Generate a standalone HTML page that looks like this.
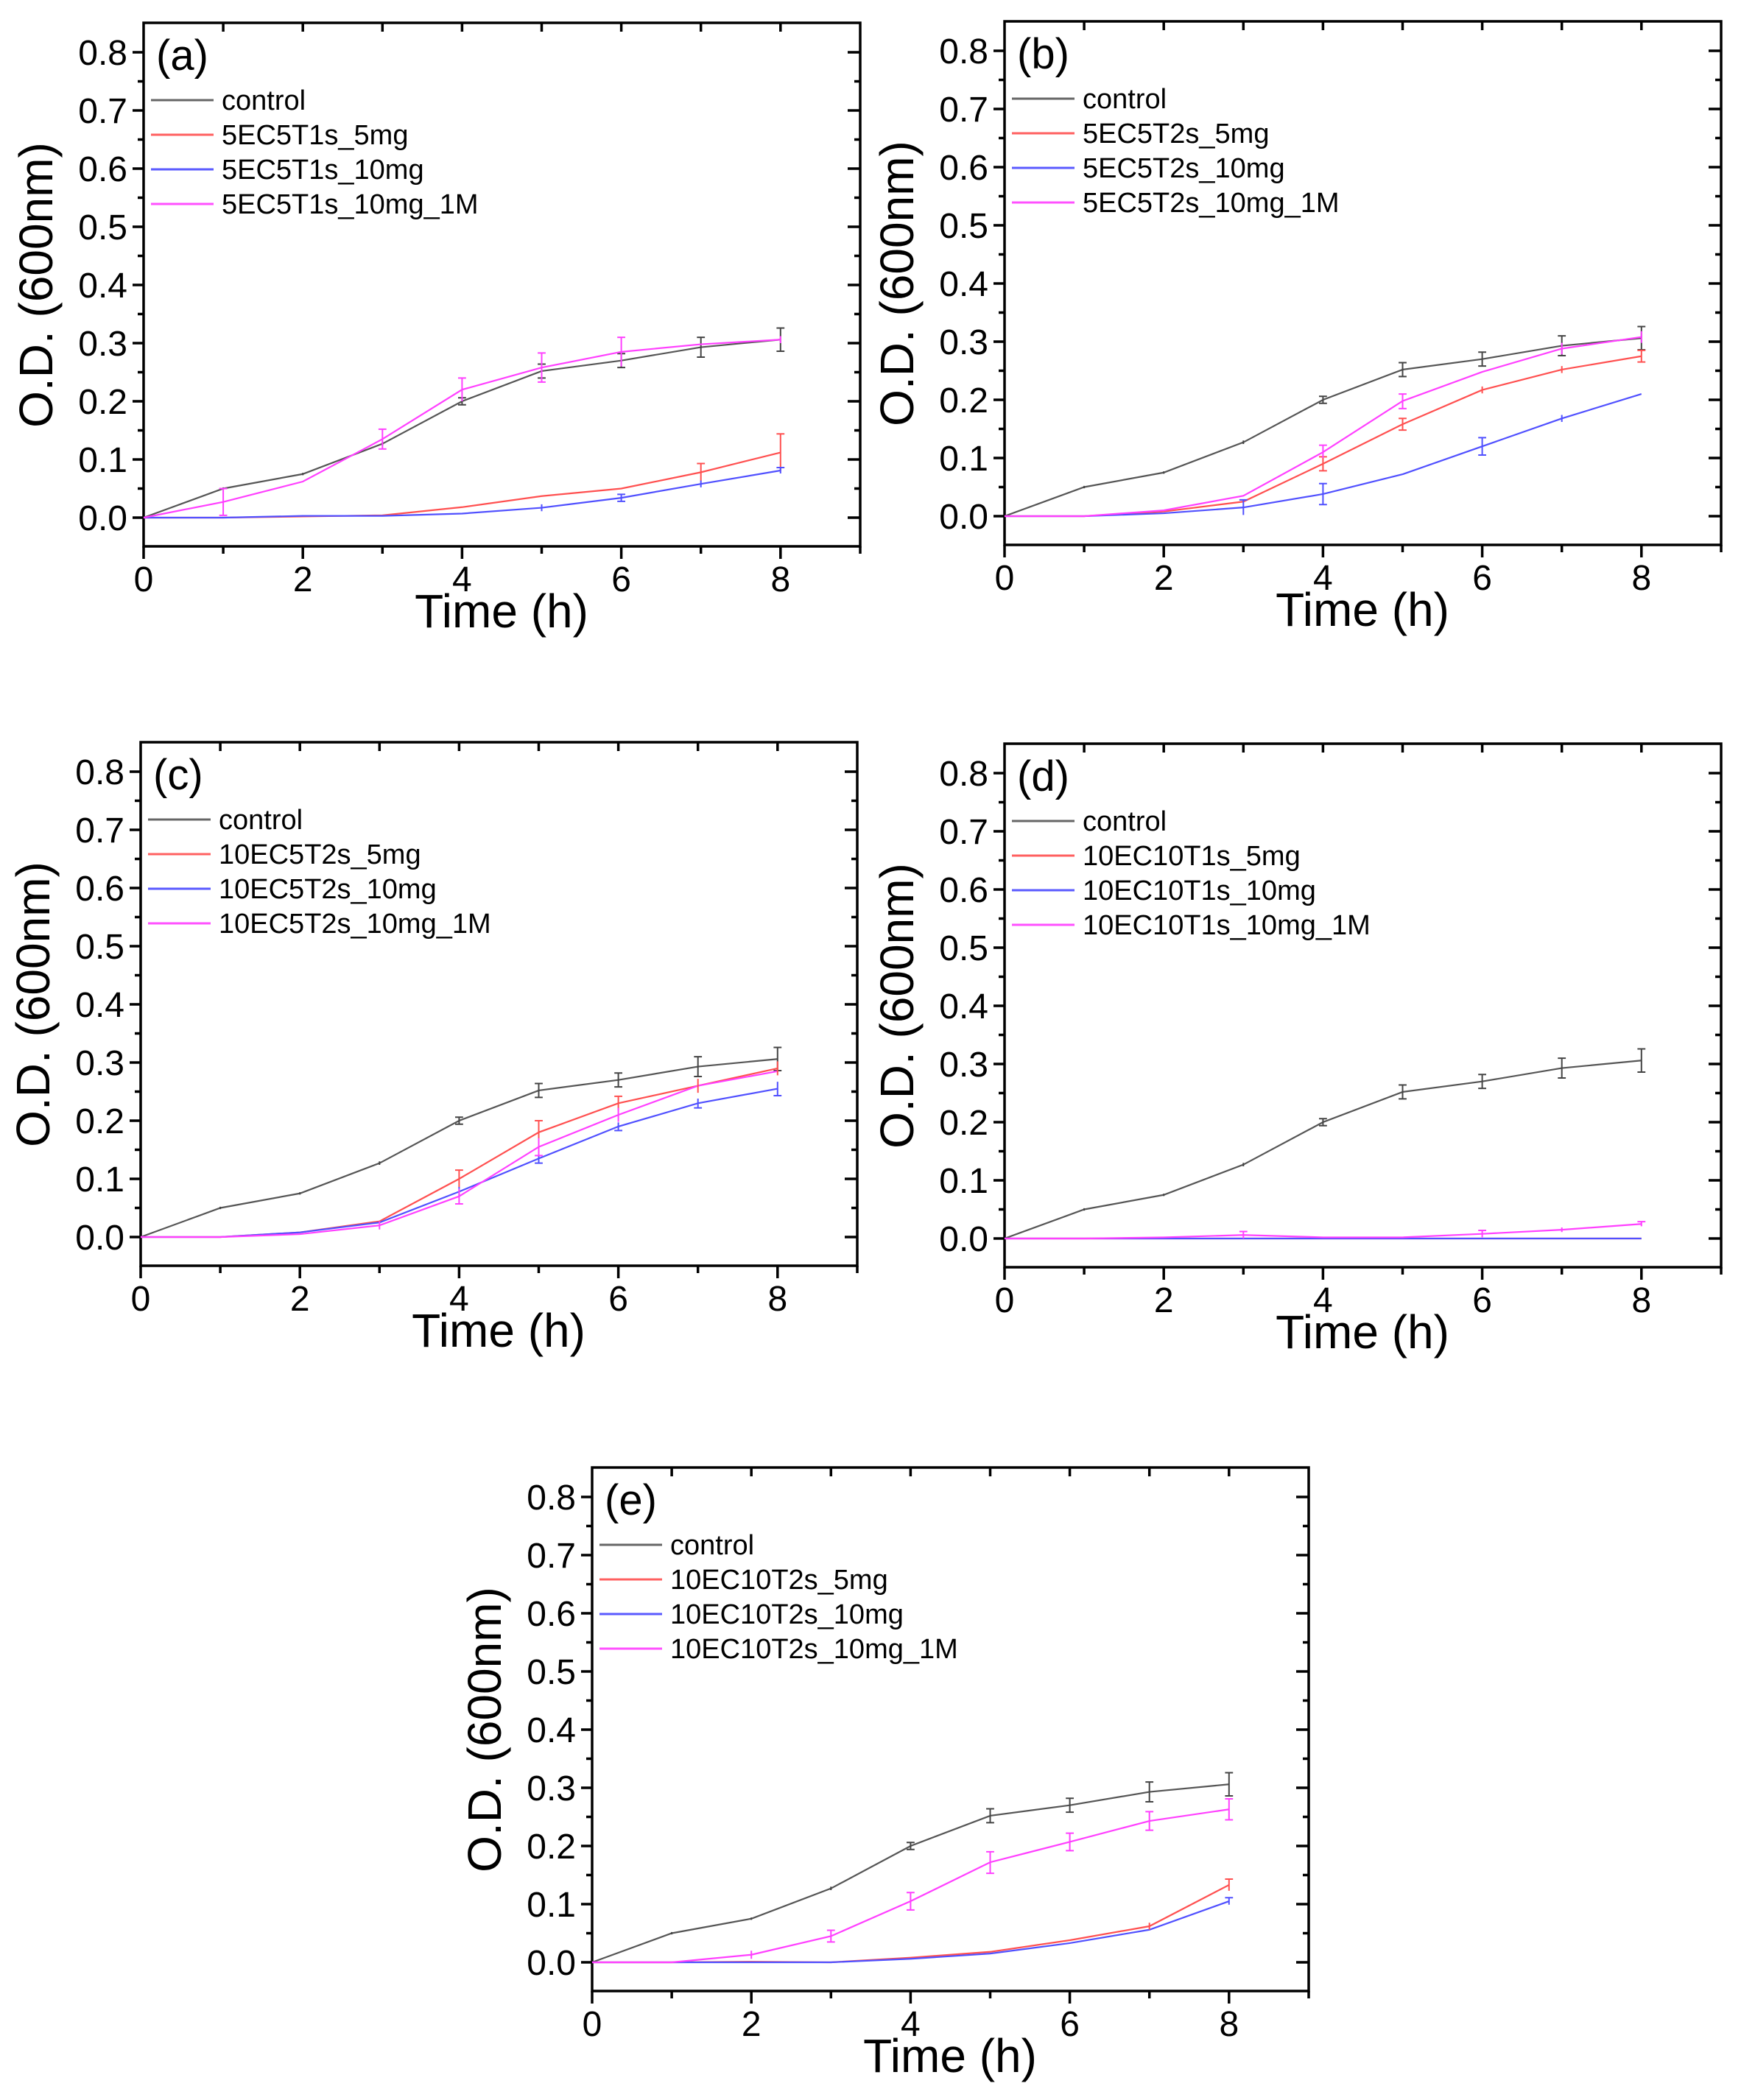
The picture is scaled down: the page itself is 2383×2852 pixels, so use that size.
<!DOCTYPE html>
<html><head><meta charset="utf-8"><style>
html,body{margin:0;padding:0;background:#fff}
svg{display:block}
text{font-family:"Liberation Sans",Arial,sans-serif;fill:#000}
.tk{font-size:48px}
.ttl{font-size:64px}
.lg{font-size:38px}
.pl{font-size:58px}
polyline,.e path{fill:none;vector-effect:non-scaling-stroke}
polyline{stroke-width:2.2}
.e path{stroke-width:2}
</style></head><body>
<svg width="2383" height="2852" viewBox="0 0 2383 2852" xmlns="http://www.w3.org/2000/svg">
<defs>
<g id="axes">
<rect x="0" y="0" width="973" height="711" fill="none" stroke="#000" stroke-width="3.5"/>
<path stroke="#000" stroke-width="3.5" fill="none" d="
M-15 672H0M-15 593H0M-15 514H0M-15 435H0M-15 356H0M-15 277H0M-15 198H0M-15 119H0M-15 40H0
M-8 632.5H0M-8 553.5H0M-8 474.5H0M-8 395.5H0M-8 316.5H0M-8 237.5H0M-8 158.5H0M-8 79.5H0
M956 672H973M956 593H973M956 514H973M956 435H973M956 356H973M956 277H973M956 198H973M956 119H973M956 40H973
M965 632.5H973M965 553.5H973M965 474.5H973M965 395.5H973M965 316.5H973M965 237.5H973M965 158.5H973M965 79.5H973
M0 711V728M216.2 711V728M432.4 711V728M648.6 711V728M864.8 711V728
M108.1 711V721M324.3 711V721M540.5 711V721M756.7 711V721M973 711V721
M108.1 0V12M216.2 0V12M324.3 0V12M432.4 0V12M540.5 0V12M648.6 0V12M756.7 0V12M864.8 0V12"/>
<g font-size="48" text-anchor="end" font-family="Liberation Sans, Arial, sans-serif">
<text x="-22" y="689">0.0</text><text x="-22" y="610">0.1</text><text x="-22" y="531">0.2</text>
<text x="-22" y="452">0.3</text><text x="-22" y="373">0.4</text><text x="-22" y="294">0.5</text>
<text x="-22" y="215">0.6</text><text x="-22" y="136">0.7</text><text x="-22" y="57">0.8</text>
</g>
<g font-size="48" text-anchor="middle" font-family="Liberation Sans, Arial, sans-serif">
<text x="0" y="772">0</text><text x="216.2" y="772">2</text><text x="432.4" y="772">4</text>
<text x="648.6" y="772">6</text><text x="864.8" y="772">8</text>
</g>
<text font-size="64" font-family="Liberation Sans, Arial, sans-serif" x="486" y="821" text-anchor="middle">Time (h)</text>
<text font-size="64" font-family="Liberation Sans, Arial, sans-serif" transform="translate(-124,356) rotate(-90)" text-anchor="middle">O.D. (600nm)</text>
<path stroke="#666" stroke-width="3" d="M10 105H95"/>
<path stroke="#ff6060" stroke-width="3" d="M10 152H95"/>
<path stroke="#5a5aff" stroke-width="3" d="M10 199H95"/>
<path stroke="#ff50ff" stroke-width="3" d="M10 246H95"/>
<text font-size="38" font-family="Liberation Sans, Arial, sans-serif" x="106" y="118">control</text>
</g>
<g id="ctrl">
<polyline fill="none" stroke="#555" stroke-width="2.2" vector-effect="non-scaling-stroke" points="0,0 1,.05 2,.075 3,.127 4,.2 5,.252 6,.27 7,.293 8,.306"/>
<path fill="none" stroke="#444" stroke-width="2" vector-effect="non-scaling-stroke" d="M1,.048V.052M2,.073V.077M3,.124V.13M4,.194V.206M3.95,.194H4.05M3.95,.206H4.05M5,.240V.264M4.95,.240H5.05M4.95,.264H5.05M6,.258V.282M5.95,.258H6.05M5.95,.282H6.05M7,.276V.310M6.95,.276H7.05M6.95,.310H7.05M8,.286V.326M7.95,.286H8.05M7.95,.326H8.05"/>
</g>
</defs>

<!-- (a) -->
<g transform="translate(195,31)">
<use href="#axes"/>
<text class="pl" x="17" y="64">(a)</text>
<g class="lg"><text x="106" y="165">5EC5T1s_5mg</text><text x="106" y="212">5EC5T1s_10mg</text><text x="106" y="259">5EC5T1s_10mg_1M</text></g>
<g transform="translate(0,672) scale(108.1,-790)">
<use href="#ctrl"/>
<polyline stroke="#ff5050" points="0,0 1,0 2,.002 3,.004 4,.018 5,.037 6,.05 7,.078 8,.112"/>
<polyline stroke="#5050ff" points="0,0 1,0 2,.003 3,.003 4,.007 5,.017 6,.034 7,.058 8,.081"/>
<polyline stroke="#ff40ff" points="0,0 1,.027 2,.062 3,.135 4,.22 5,.258 6,.285 7,.298 8,.306"/>
<g class="e">
<path stroke="#ff5050" d="M7,.063V.093M6.95,.093H7.05M8,.08V.144M7.95,.144H8.05"/>
<path stroke="#5050ff" d="M6,.028V.040M5.95,.040H6.05M5.95,.028H6.05M7,.052V.064M5,.011V.023M8,.076V.086M7.95,.086H8.05"/>
<path stroke="#ff40ff" d="M1,.004V.05M.95,.05H1.05M.95,.004H1.05M3,.118V.152M2.95,.152H3.05M2.95,.118H3.05M4,.2V.24M3.95,.24H4.05M5,.233V.283M4.95,.283H5.05M4.95,.233H5.05M6,.26V.31M5.95,.31H6.05M8,.3V.312"/>
</g>
</g>
</g>

<!-- (b) -->
<g transform="translate(1364,29)">
<use href="#axes"/>
<text class="pl" x="17" y="64">(b)</text>
<g class="lg"><text x="106" y="165">5EC5T2s_5mg</text><text x="106" y="212">5EC5T2s_10mg</text><text x="106" y="259">5EC5T2s_10mg_1M</text></g>
<g transform="translate(0,672) scale(108.1,-790)">
<use href="#ctrl"/>
<polyline stroke="#ff5050" points="0,0 1,0 2,.008 3,.025 4,.09 5,.158 6,.217 7,.252 8,.275"/>
<polyline stroke="#5050ff" points="0,0 1,0 2,.005 3,.015 4,.038 5,.072 6,.12 7,.168 8,.21"/>
<polyline stroke="#ff40ff" points="0,0 1,0 2,.01 3,.035 4,.11 5,.198 6,.248 7,.288 8,.308"/>
<g class="e">
<path stroke="#ff5050" d="M4,.078V.102M3.95,.102H4.05M3.95,.078H4.05M5,.148V.168M4.95,.168H5.05M4.95,.148H5.05M6,.211V.223M7,.246V.258M8,.265V.285M7.95,.285H8.05M7.95,.265H8.05"/>
<path stroke="#5050ff" d="M3,.002V.028M2.95,.028H3.05M4,.02V.056M3.95,.056H4.05M3.95,.02H4.05M6,.105V.135M5.95,.135H6.05M5.95,.105H6.05M7,.162V.174"/>
<path stroke="#ff40ff" d="M4,.1V.122M3.95,.122H4.05M5,.185V.21M4.95,.21H5.05M4.95,.185H5.05M7,.278V.298M8,.298V.318"/>
</g>
</g>
</g>

<!-- (c) -->
<g transform="translate(191,1008)">
<use href="#axes"/>
<text class="pl" x="17" y="64">(c)</text>
<g class="lg"><text x="106" y="165">10EC5T2s_5mg</text><text x="106" y="212">10EC5T2s_10mg</text><text x="106" y="259">10EC5T2s_10mg_1M</text></g>
<g transform="translate(0,672) scale(108.1,-790)">
<use href="#ctrl"/>
<polyline stroke="#ff5050" points="0,0 1,0 2,.008 3,.027 4,.1 5,.18 6,.23 7,.26 8,.29"/>
<polyline stroke="#5050ff" points="0,0 1,0 2,.008 3,.025 4,.078 5,.135 6,.19 7,.23 8,.255"/>
<polyline stroke="#ff40ff" points="0,0 1,0 2,.005 3,.02 4,.07 5,.155 6,.21 7,.26 8,.285"/>
<g class="e">
<path stroke="#ff5050" d="M4,.085V.115M3.95,.115H4.05M5,.16V.2M4.95,.2H5.05M6,.218V.242M5.95,.242H6.05M7,.248V.272M8,.278V.302"/>
<path stroke="#5050ff" d="M4,.07V.086M5,.127V.143M4.95,.127H5.05M6,.183V.197M5.95,.183H6.05M7,.222V.238M6.95,.222H7.05M8,.243V.267M7.95,.243H8.05"/>
<path stroke="#ff40ff" d="M4,.057V.083M3.95,.057H4.05M5,.14V.17M4.95,.14H5.05M6,.198V.222M3,.013V.027"/>
</g>
</g>
</g>

<!-- (d) -->
<g transform="translate(1364,1010)">
<use href="#axes"/>
<text class="pl" x="17" y="64">(d)</text>
<g class="lg"><text x="106" y="165">10EC10T1s_5mg</text><text x="106" y="212">10EC10T1s_10mg</text><text x="106" y="259">10EC10T1s_10mg_1M</text></g>
<g transform="translate(0,672) scale(108.1,-790)">
<use href="#ctrl"/>
<polyline stroke="#ff5050" points="0,0 8,0"/>
<polyline stroke="#5050ff" points="0,0 8,0"/>
<polyline stroke="#ff40ff" points="0,0 1,0 2,.002 3,.006 4,.002 5,.002 6,.008 7,.015 8,.025"/>
<g class="e">
<path stroke="#ff40ff" d="M3,0V.012M2.95,.012H3.05M6,.002V.014M5.95,.014H6.05M7,.011V.019M8,.021V.029M7.95,.029H8.05"/>
</g>
</g>
</g>

<!-- (e) -->
<g transform="translate(804,1993)">
<use href="#axes"/>
<text class="pl" x="17" y="64">(e)</text>
<g class="lg"><text x="106" y="165">10EC10T2s_5mg</text><text x="106" y="212">10EC10T2s_10mg</text><text x="106" y="259">10EC10T2s_10mg_1M</text></g>
<g transform="translate(0,672) scale(108.1,-790)">
<use href="#ctrl"/>
<polyline stroke="#ff5050" points="0,0 1,0 2,.001 3,0 4,.008 5,.018 6,.038 7,.062 8,.133"/>
<polyline stroke="#5050ff" points="0,0 1,0 2,0 3,0 4,.006 5,.015 6,.033 7,.056 8,.105"/>
<polyline stroke="#ff40ff" points="0,0 1,0 2,.013 3,.045 4,.105 5,.172 6,.207 7,.243 8,.263"/>
<g class="e">
<path stroke="#ff5050" d="M8,.123V.143M7.95,.143H8.05M7,.056V.068"/>
<path stroke="#5050ff" d="M8,.099V.111M7.95,.111H8.05"/>
<path stroke="#ff40ff" d="M2,.006V.02M3,.035V.055M2.95,.055H3.05M2.95,.035H3.05M4,.09V.12M3.95,.12H4.05M3.95,.09H4.05M5,.153V.19M4.95,.19H5.05M4.95,.153H5.05M6,.192V.222M5.95,.222H6.05M5.95,.192H6.05M7,.227V.259M6.95,.259H7.05M6.95,.227H7.05M8,.245V.281M7.95,.281H8.05M7.95,.245H8.05"/>
</g>
</g>
</g>
</svg>
</body></html>
